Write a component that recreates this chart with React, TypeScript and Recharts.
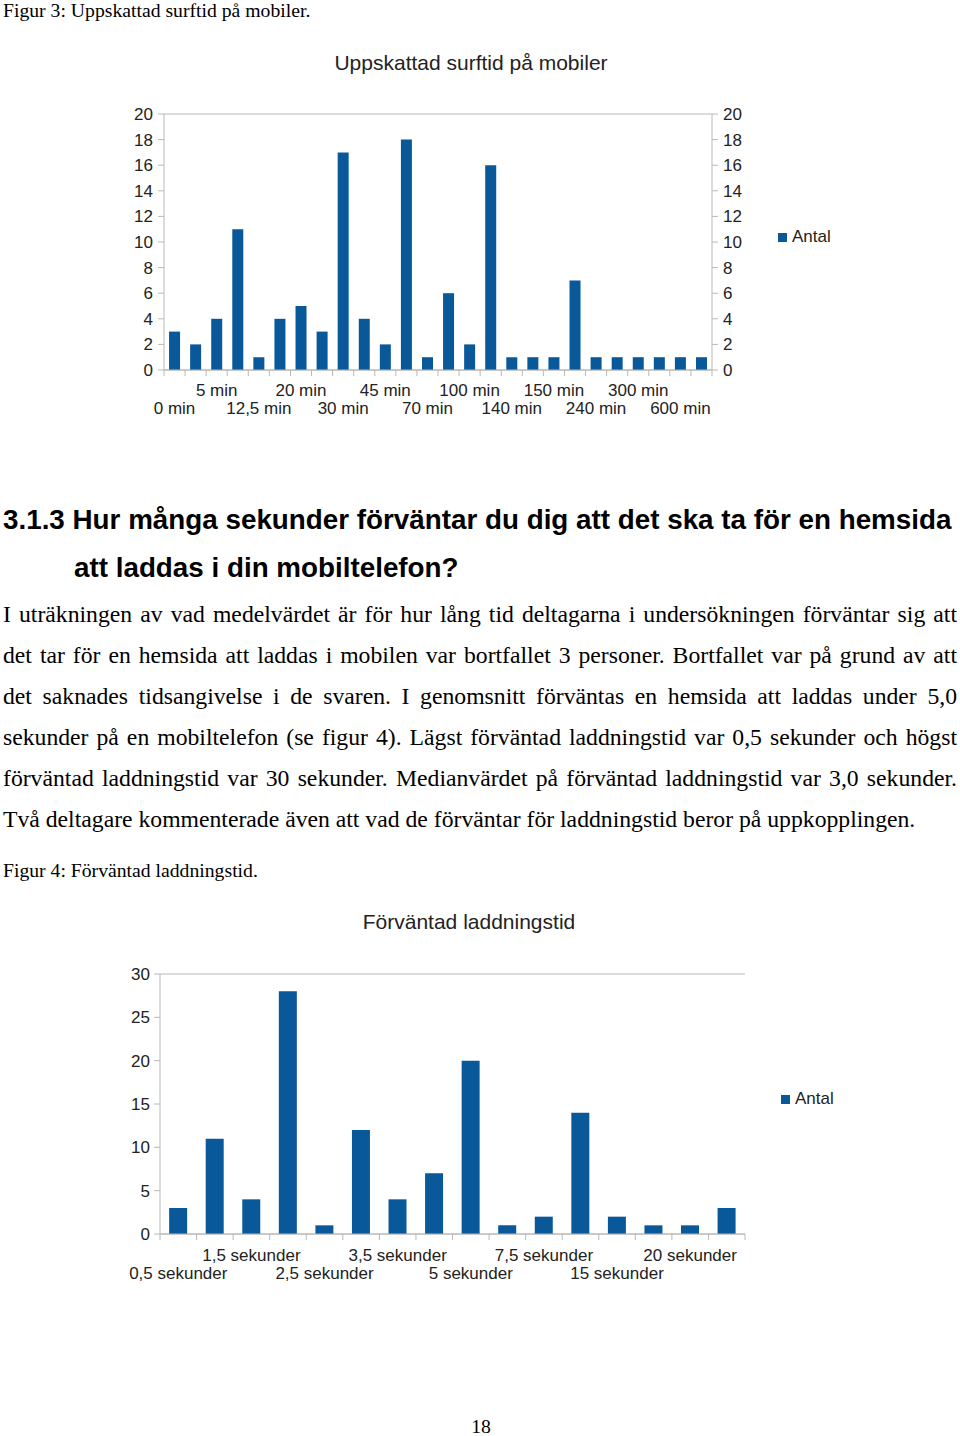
import { ComposedChart, BarChart, Bar, Line, XAxis, YAxis, CartesianGrid } from "recharts";

// Figur 3 – uppskattad surftid
const surfCategories = [
  "0 min", "2 min", "5 min", "10 min", "12,5 min", "15 min", "20 min", "25 min", "30 min",
  "40 min", "45 min", "60 min", "70 min", "90 min", "100 min", "120 min", "140 min", "145 min",
  "150 min", "180 min", "240 min", "270 min", "300 min", "360 min", "600 min", "720 min",
];
const surfCounts = [3, 2, 4, 11, 1, 4, 5, 3, 17, 4, 2, 18, 1, 6, 2, 16, 1, 1, 1, 7, 1, 1, 1, 1, 1, 1];
const surfTicks = [0, 2, 4, 6, 8, 10, 12, 14, 16, 18, 20];

// Figur 4 – förväntad laddningstid
const loadCategories = [
  "0,5 sekunder", "1 sekund", "1,5 sekunder", "2 sekunder", "2,5 sekunder", "3 sekunder",
  "3,5 sekunder", "4 sekunder", "5 sekunder", "6 sekunder", "7,5 sekunder", "10 sekunder",
  "15 sekunder", "17 sekunder", "20 sekunder", "30 sekunder",
];
const loadCounts = [3, 11, 4, 28, 1, 12, 4, 7, 20, 1, 2, 14, 2, 1, 1, 3];
const loadTicks = [0, 5, 10, 15, 20, 25, 30];

const surfData = surfCategories.map((name, i) => ({ name, Antal: surfCounts[i] }));
const loadData = loadCategories.map((name, i) => ({ name, Antal: loadCounts[i] }));

const BLUE = "#08589a";
const GRID = "#b8b8b8";
const SANS = "'Liberation Sans', Arial, sans-serif";
const SERIF = "'Liberation Serif', 'Times New Roman', serif";
const TICK = { fontSize: 17, fill: "#222", fontFamily: SANS };

const paragraph = [
  "I uträkningen av vad medelvärdet är för hur lång tid deltagarna i undersökningen förväntar sig att",
  "det tar för en hemsida att laddas i mobilen var bortfallet 3 personer. Bortfallet var på grund av att",
  "det saknades tidsangivelse i de svaren. I genomsnitt förväntas en hemsida att laddas under 5,0",
  "sekunder på en mobiltelefon (se figur 4). Lägst förväntad laddningstid var 0,5 sekunder och högst",
  "förväntad laddningstid var 30 sekunder. Medianvärdet på förväntad laddningstid var 3,0 sekunder.",
  "Två deltagare kommenterade även att vad de förväntar för laddningstid beror på uppkopplingen.",
];

// category tick: boundary tick line, label on every other category in two staggered rows
const makeTick = (count: number, topDy: number, bottomDy: number) => (props: any) => {
  const { x, y, payload, index, width } = props;
  const half = payload?.offset ?? width / count / 2;
  const showLabel = index % 2 === 0;
  const topRow = (index / 2) % 2 === 1;
  return (
    <g>
      <line x1={x - half} x2={x - half} y1={y} y2={y + 6} stroke={GRID} />
      {index === count - 1 && <line x1={x + half} x2={x + half} y1={y} y2={y + 6} stroke={GRID} />}
      {showLabel && (
        <text x={x} y={y + (topRow ? topDy : bottomDy)} textAnchor="middle" {...TICK}>
          {payload.value}
        </text>
      )}
    </g>
  );
};

const Legend = ({ left, top }: { left: number; top: number }) => (
  <div style={{ position: "absolute", left, top, display: "flex", alignItems: "center", fontFamily: SANS, fontSize: 17, lineHeight: "20px", color: "#222" }}>
    <span style={{ width: 9, height: 9, background: BLUE, display: "inline-block", marginRight: 5 }} />
    Antal
  </div>
);

const abs = (left: number, top: number, extra: any = {}) => ({ position: "absolute" as const, left, top, whiteSpace: "nowrap" as const, ...extra });

export default function App() {
  return (
    <div style={{ position: "absolute", left: 0, top: 0, width: 960, height: 1436, background: "#fff", overflow: "hidden" }}>
      <div style={abs(3, 0, { fontFamily: SERIF, fontSize: 19.7, lineHeight: "20px", color: "#000" })}>Figur 3: Uppskattad surftid på mobiler.</div>

      <div style={abs(0, 51, { width: 942, textAlign: "center", fontFamily: SANS, fontSize: 21, lineHeight: "24px", color: "#222" })}>
        Uppskattad surftid på mobiler
      </div>
      <div style={abs(0, 40)}>
        <ComposedChart width={960} height={400} data={surfData} margin={{ top: 74, right: 208, bottom: 0, left: 124 }} barCategoryGap="24%">
          <CartesianGrid vertical={false} stroke={GRID} />
          <XAxis dataKey="name" interval={0} tickSize={0} tickMargin={0} tickLine={false} axisLine={{ stroke: GRID }}
            tick={makeTick(surfCategories.length, 26, 44)} height={70} />
          <YAxis yAxisId="l" domain={[0, 20]} ticks={surfTicks} interval={0} width={40} tickMargin={5}
            axisLine={{ stroke: GRID }} tickLine={{ stroke: GRID }} tick={TICK} />
          <YAxis yAxisId="r" orientation="right" domain={[0, 20]} ticks={surfTicks} interval={0} width={40} tickMargin={5}
            axisLine={{ stroke: GRID }} tickLine={{ stroke: GRID }} tick={TICK} />
          <Bar yAxisId="l" dataKey="Antal" fill={BLUE} isAnimationActive={false} />
          {/* same series on the secondary axis, invisible, so the right scale gets its ticks */}
          <Line yAxisId="r" dataKey="Antal" stroke="none" dot={false} activeDot={false} legendType="none" isAnimationActive={false} />
        </ComposedChart>
      </div>
      <Legend left={778} top={227} />

      <div style={abs(3, 504, { fontFamily: SANS, fontWeight: "bold", fontSize: 27.8, lineHeight: "32px", color: "#000" })}>
        3.1.3 Hur många sekunder förväntar du dig att det ska ta för en hemsida
      </div>
      <div style={abs(74, 552, { fontFamily: SANS, fontWeight: "bold", fontSize: 27.8, lineHeight: "32px", color: "#000" })}>
        att laddas i din mobiltelefon?
      </div>

      {paragraph.map((line, i) => (
        <div key={i} style={abs(3, 600 + i * 41, {
          width: 954, fontFamily: SERIF, fontSize: 23.7, lineHeight: "28px", color: "#000",
          textAlign: "justify", textAlignLast: i < paragraph.length - 1 ? "justify" : "left",
        })}>
          {line}
        </div>
      ))}

      <div style={abs(3, 860, { fontFamily: SERIF, fontSize: 19.7, lineHeight: "20px", color: "#000" })}>Figur 4: Förväntad laddningstid.</div>

      <div style={abs(0, 910, { width: 938, textAlign: "center", fontFamily: SANS, fontSize: 21, lineHeight: "24px", color: "#222" })}>
        Förväntad laddningstid
      </div>
      <div style={abs(0, 890)}>
        <BarChart width={960} height={400} data={loadData} margin={{ top: 84, right: 215, bottom: 0, left: 120 }} barCategoryGap="25%">
          <CartesianGrid vertical={false} stroke={GRID} />
          <XAxis dataKey="name" interval={0} tickSize={0} tickMargin={0} tickLine={false} axisLine={{ stroke: GRID }}
            tick={makeTick(loadCategories.length, 27, 45)} height={56} />
          <YAxis yAxisId="l" domain={[0, 30]} ticks={loadTicks} interval={0} width={40} tickMargin={4}
            axisLine={{ stroke: GRID }} tickLine={{ stroke: GRID }} tick={TICK} />
          <YAxis yAxisId="r" orientation="right" domain={[0, 30]} ticks={loadTicks} width={0} tick={false} tickLine={false}
            axisLine={{ stroke: GRID }} />
          <Bar yAxisId="l" dataKey="Antal" fill={BLUE} isAnimationActive={false} />
        </BarChart>
      </div>
      <Legend left={781} top={1089} />

      <div style={abs(0, 1416, { width: 962, textAlign: "center", fontFamily: SERIF, fontSize: 19.7, lineHeight: "20px", color: "#000" })}>18</div>
    </div>
  );
}
